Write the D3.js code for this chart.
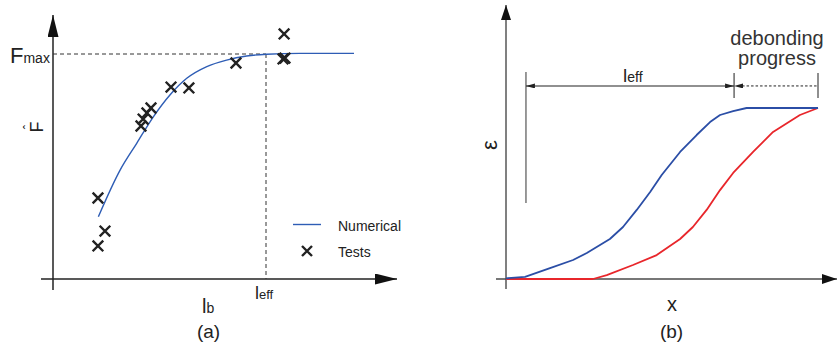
<!DOCTYPE html>
<html>
<head>
<meta charset="utf-8">
<script src="https://cdn.jsdelivr.net/npm/d3@7"></script>
<style>
  html, body { margin: 0; padding: 0; background: #fff; }
  svg { display: block; font-family: "Liberation Sans", Arial, sans-serif; }
</style>
</head>
<body>
<svg id="fig" width="837" height="351"></svg>
<script>
// ---- Panel (a): normalised bond length vs. normalised capacity ----
const numericalX = [0.213, 0.315, 0.393, 0.471, 0.549, 0.628, 0.722, 0.815, 0.909, 1.003, 1.160, 1.413];
const numericalY = [0.277, 0.484, 0.603, 0.721, 0.818, 0.892, 0.944, 0.973, 0.991, 0.999, 1.003, 1.003];
const testsX = [0.211, 0.244, 0.211, 0.413, 0.423, 0.441, 0.460, 0.554, 0.638, 0.859, 1.085, 1.080, 1.089];
const testsY = [0.360, 0.213, 0.147, 0.680, 0.711, 0.738, 0.760, 0.853, 0.849, 0.960, 1.089, 0.978, 0.982];
const effLengthA = 1.0;   // l_eff on the bond-length axis
const capacityMax = 1.0;  // F_max on the capacity axis
const legendLabels = ["Numerical", "Tests"];

// ---- Panel (b): strain distribution along the bonded length ----
const initialX = [0, 0.061, 0.141, 0.215, 0.259, 0.333, 0.375, 0.419, 0.462, 0.499, 0.558, 0.611, 0.654, 0.686, 0.728, 0.771, 0.856, 1.0];
const initialStrain = [0.004, 0.013, 0.064, 0.111, 0.152, 0.234, 0.304, 0.404, 0.509, 0.608, 0.743, 0.842, 0.918, 0.959, 0.982, 1.0, 1.0, 1.0];
const debondedX = [0, 0.279, 0.323, 0.407, 0.483, 0.558, 0.599, 0.643, 0.686, 0.728, 0.792, 0.856, 0.942, 1.0];
const debondedStrain = [0, 0, 0.023, 0.082, 0.140, 0.234, 0.304, 0.404, 0.520, 0.620, 0.743, 0.860, 0.959, 1.0];
const effStartB = 0.064, effEndB = 0.731, progressEndB = 1.0;

const svg = d3.select("#fig");
const ink = "#222";

// arrowhead markers
const defs = svg.append("defs");
function marker(id, w, h, color) {
  defs.append("marker").attr("id", id)
    .attr("viewBox", `0 0 ${w} ${h}`).attr("refX", w).attr("refY", h / 2)
    .attr("markerWidth", w).attr("markerHeight", h).attr("markerUnits", "userSpaceOnUse")
    .attr("orient", "auto-start-reverse")
    .append("path").attr("d", `M0,0L${w},${h / 2}L0,${h}Z`).attr("fill", color);
}
marker("axisArrow", 22, 11, "#111");
marker("axisArrowB", 15, 10, "#111");
marker("dimArrow", 9, 5, "#222");

// ================= Panel (a) =================
const xA = d3.scaleLinear().domain([0, 1]).range([53, 266]);
const yA = d3.scaleLinear().domain([0, 1]).range([279, 54]);
const gA = svg.append("g");

// axes
gA.append("line").attr("x1", xA(0)).attr("x2", xA(0)).attr("y1", yA(0) + 11).attr("y2", 15)
  .attr("stroke", ink).attr("stroke-width", 1.5).attr("marker-end", "url(#axisArrow)");
gA.append("line").attr("x1", xA(0) - 12).attr("x2", 397).attr("y1", yA(0)).attr("y2", yA(0))
  .attr("stroke", ink).attr("stroke-width", 1.5).attr("marker-end", "url(#axisArrow)");

// reference dashes for F_max and l_eff
gA.append("line").attr("x1", xA(0)).attr("x2", xA(effLengthA)).attr("y1", yA(capacityMax)).attr("y2", yA(capacityMax))
  .attr("stroke", "#333").attr("stroke-width", 1).attr("stroke-dasharray", "4,3");
gA.append("line").attr("x1", xA(effLengthA)).attr("x2", xA(effLengthA)).attr("y1", yA(capacityMax)).attr("y2", yA(0))
  .attr("stroke", "#333").attr("stroke-width", 1).attr("stroke-dasharray", "4,3");

// numerical curve
const lineA = d3.line().x(i => xA(numericalX[i])).y(i => yA(numericalY[i])).curve(d3.curveMonotoneX);
gA.append("path").attr("d", lineA(d3.range(numericalX.length)))
  .attr("fill", "none").attr("stroke", "#2e5db5").attr("stroke-width", 1.4);

// test results
function cross(g, cx, cy, r) {
  g.append("path").attr("d", `M${cx - r},${cy - r}L${cx + r},${cy + r}M${cx - r},${cy + r}L${cx + r},${cy - r}`)
    .attr("stroke", ink).attr("stroke-width", 2.4).attr("fill", "none");
}
testsX.forEach((v, i) => cross(gA, xA(v), yA(testsY[i]), 5.3));

// legend
gA.append("line").attr("x1", 293).attr("x2", 321).attr("y1", 224.5).attr("y2", 224.5)
  .attr("stroke", "#2e5db5").attr("stroke-width", 1.4);
gA.append("text").attr("x", 338).attr("y", 230.5).attr("font-size", 14).attr("fill", ink).text(legendLabels[0]);
cross(gA, 307, 251, 5);
gA.append("text").attr("x", 338).attr("y", 257).attr("font-size", 14).attr("fill", ink).text(legendLabels[1]);

// labels
const fmax = gA.append("text").attr("x", 10).attr("y", 62.5).attr("fill", ink);
fmax.append("tspan").attr("font-size", 22).text("F");
fmax.append("tspan").attr("font-size", 14).text("max");

const fhat = gA.append("g").attr("transform", "translate(43,127) rotate(-90)");
fhat.append("text").attr("x", 0).attr("y", 0).attr("text-anchor", "middle").attr("font-size", 18).attr("fill", ink).text("F");
fhat.append("text").attr("x", 0).attr("y", -10).attr("text-anchor", "middle").attr("font-size", 13).attr("fill", ink).text("ˆ");

const leffA = gA.append("text").attr("x", 255).attr("y", 298.5).attr("fill", ink);
leffA.append("tspan").attr("font-size", 18).text("l");
leffA.append("tspan").attr("font-size", 13).text("eff");

const lb = gA.append("text").attr("x", 202).attr("y", 313).attr("fill", ink);
lb.append("tspan").attr("font-size", 20).text("l");
lb.append("tspan").attr("font-size", 14).text("b");

gA.append("text").attr("x", 208.5).attr("y", 338).attr("text-anchor", "middle").attr("font-size", 19).attr("fill", ink).text("(a)");

// ================= Panel (b) =================
const xB = d3.scaleLinear().domain([0, 1]).range([506, 818]);
const yB = d3.scaleLinear().domain([0, 1]).range([279, 108]);
const gB = svg.append("g");
const axisGrey = "#4a4a4a";

gB.append("line").attr("x1", xB(0)).attr("x2", xB(0)).attr("y1", yB(0) + 10).attr("y2", 5)
  .attr("stroke", axisGrey).attr("stroke-width", 1.4).attr("marker-end", "url(#axisArrowB)");
gB.append("line").attr("x1", xB(0) - 10).attr("x2", 837).attr("y1", yB(0)).attr("y2", yB(0))
  .attr("stroke", axisGrey).attr("stroke-width", 1.4).attr("marker-end", "url(#axisArrowB)");

// strain profiles
const lineB = (xs, ys) => d3.line().x(i => xB(xs[i])).y(i => yB(ys[i]))(d3.range(xs.length));
gB.append("path").attr("d", lineB(debondedX, debondedStrain))
  .attr("fill", "none").attr("stroke", "#e8262b").attr("stroke-width", 1.8).attr("stroke-linejoin", "round");
gB.append("path").attr("d", lineB(initialX, initialStrain))
  .attr("fill", "none").attr("stroke", "#2b4ea6").attr("stroke-width", 1.8).attr("stroke-linejoin", "round");

// dimension lines: effective bond length and debonding progress
const dimY = yB(1.129);
gB.append("line").attr("x1", xB(effStartB)).attr("x2", xB(effStartB)).attr("y1", yB(1.211)).attr("y2", yB(0.444))
  .attr("stroke", "#555").attr("stroke-width", 1.2);
[effEndB, progressEndB].forEach(v => {
  gB.append("line").attr("x1", xB(v)).attr("x2", xB(v)).attr("y1", yB(1.205)).attr("y2", yB(1.058))
    .attr("stroke", "#333").attr("stroke-width", 1.1);
});
gB.append("line").attr("x1", xB(effStartB)).attr("x2", xB(effEndB)).attr("y1", dimY).attr("y2", dimY)
  .attr("stroke", "#222").attr("stroke-width", 1.1)
  .attr("marker-start", "url(#dimArrow)").attr("marker-end", "url(#dimArrow)");
gB.append("line").attr("x1", xB(effEndB)).attr("x2", xB(effEndB) + 9).attr("y1", dimY).attr("y2", dimY)
  .attr("stroke", "none").attr("marker-start", "url(#dimArrow)");
gB.append("line").attr("x1", xB(effEndB) + 8).attr("x2", xB(progressEndB)).attr("y1", dimY).attr("y2", dimY)
  .attr("stroke", "#222").attr("stroke-width", 1).attr("stroke-dasharray", "2.5,2");

const leffB = gB.append("text").attr("x", 623).attr("y", 81.5).attr("fill", ink);
leffB.append("tspan").attr("font-size", 19).text("l");
leffB.append("tspan").attr("font-size", 14).text("eff");

gB.append("text").attr("x", 777).attr("y", 45).attr("text-anchor", "middle").attr("font-size", 20).attr("fill", "#333").text("debonding");
gB.append("text").attr("x", 777).attr("y", 65).attr("text-anchor", "middle").attr("font-size", 20).attr("fill", "#333").text("progress");

gB.append("text").attr("transform", "translate(497,145) rotate(-90)").attr("text-anchor", "middle")
  .attr("font-size", 22).attr("fill", ink).text("ε");
gB.append("text").attr("x", 672).attr("y", 311).attr("text-anchor", "middle").attr("font-size", 20).attr("fill", ink).text("x");
gB.append("text").attr("x", 671.5).attr("y", 338).attr("text-anchor", "middle").attr("font-size", 19).attr("fill", ink).text("(b)");
</script>
</body>
</html>
